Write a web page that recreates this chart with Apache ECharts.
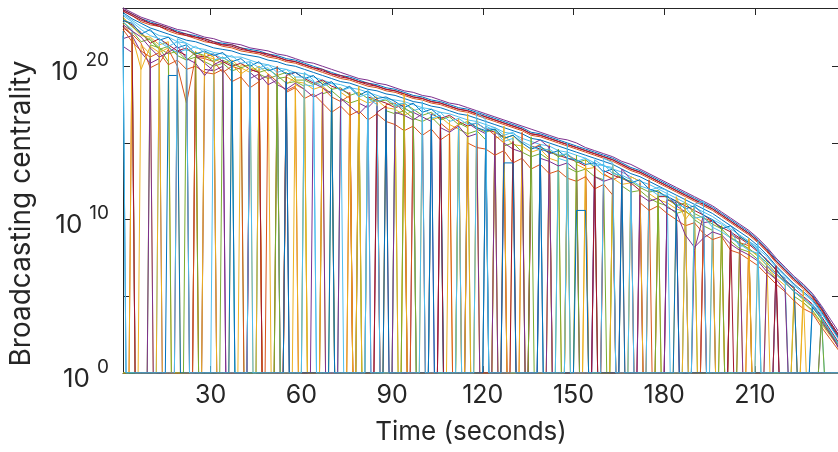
<!DOCTYPE html>
<html>
<head>
<meta charset="utf-8">
<script src="https://cdn.jsdelivr.net/npm/echarts@6/dist/echarts.min.js"></script>
<style>
html,body{margin:0;padding:0;background:#fff;}
#chart{width:838px;height:452px;}
</style>
</head>
<body>
<div id="chart"></div>
<script>
// Time in seconds (sample instants)
const time = [1,4,7,10,13,16,19,22,25,28,31,34,37,40,43,46,49,52,55,58,61,64,67,70,73,76,79,82,85,88,91,94,97,100,103,106,109,112,115,118,121,124,127,130,133,136,139,142,145,148,151,154,157,160,163,166,169,172,175,178,181,184,187,190,193,196,199,202,205,208,211,214,217,220,223,226,229,232,235,238];

// log10 of broadcasting centrality for each node (0 => centrality 1, i.e. the node sits at the floor)
const node1 = [23.7,23.4,23.1,22.9,22.7,22.5,22.3,22.1,22.0,21.8,21.6,21.5,21.4,21.2,21.1,21.0,20.8,20.7,20.5,20.4,20.2,20.0,19.8,19.6,19.4,19.3,19.1,18.9,18.8,18.6,18.5,18.3,18.1,18.0,17.8,17.7,17.5,17.3,17.2,17.0,16.8,16.6,16.4,16.2,16.0,15.7,15.6,15.4,15.2,15.0,14.8,14.6,14.4,14.2,14.0,13.7,13.4,13.2,12.9,12.6,12.3,12.0,11.7,11.4,11.1,10.8,10.4,10.0,9.6,9.2,8.7,8.1,7.4,6.8,6.2,5.7,5.1,4.3,3.3,2.4];
const node2 = [23.6,23.3,22.9,22.7,22.6,22.3,22.1,22.0,21.8,21.6,21.5,21.3,21.2,21.0,20.9,20.8,20.6,20.5,20.3,20.2,20.0,19.8,19.6,19.4,19.2,19.1,18.9,18.7,18.6,18.4,18.3,18.1,17.9,17.8,17.6,17.5,17.3,17.1,17.0,16.8,16.6,16.4,16.2,16.0,15.8,15.5,15.4,15.2,15.0,14.8,14.6,14.4,14.2,14.0,13.8,13.5,13.2,13.0,12.7,12.4,12.1,11.8,11.5,11.2,10.9,10.6,10.2,9.8,9.4,9.0,8.5,7.9,7.2,6.6,6.0,5.5,4.9,4.1,3.1,2.2];
const node3 = [23.2,22.6,22.0,21.9,21.4,21.6,0,0,20.9,20.6,20.5,20.2,20.4,19.9,19.6,20.0,19.5,0,19.3,19.0,18.9,18.5,18.7,18.2,0,0,17.9,17.6,17.8,17.3,17.2,16.8,17.1,0,16.5,16.7,16.2,15.9,0,0,0,15.3,15.5,14.9,14.8,14.4,14.6,14.0,13.8,0,13.6,13.3,13.4,12.9,12.7,12.3,12.4,0,11.7,11.3,11.1,10.7,10.5,10.2,9.8,0,0,8.9,8.4,8.1,7.6,7.0,6.2,5.7,0,4.6,4.0,3.2,2.4,1.6];
const node4 = [23.8,23.5,23.2,23.0,22.8,22.6,22.4,22.3,22.1,21.9,21.8,21.6,21.5,21.4,21.2,21.1,21.0,20.8,20.7,20.5,20.3,20.2,20.0,19.8,19.6,19.4,19.2,19.1,18.9,18.8,18.6,18.4,18.3,18.1,18.0,17.8,17.6,17.5,17.3,17.1,16.9,16.7,16.5,16.3,16.1,15.9,15.7,15.5,15.3,15.2,15.0,14.7,14.5,14.3,14.1,13.8,13.6,13.3,13.0,12.7,12.4,12.1,11.8,11.5,11.2,10.9,10.5,10.1,9.7,9.3,8.8,8.2,7.5,6.9,6.3,5.8,5.2,4.4,3.5,2.6];
const node5 = [22.9,22.3,21.6,21.8,21.2,20.8,21.0,20.4,20.6,20.3,20.0,20.2,19.7,19.9,0,19.5,19.2,19.4,18.9,19.0,18.7,0,18.2,18.4,17.9,17.6,17.8,0,0,17.1,16.9,17.1,16.6,16.4,16.7,16.1,0,15.9,15.6,15.8,15.2,0,14.8,15.0,14.4,14.1,14.3,13.9,0,13.4,13.1,13.3,12.8,12.6,0,12.2,11.8,11.9,11.4,11.1,10.9,10.4,10.6,10.0,9.6,9.3,0,8.6,8.1,7.9,7.4,6.8,6.1,0,5.0,4.6,4.1,3.3,2.5,1.8];
const node6 = [23.4,23.0,22.6,22.3,22.0,21.9,21.6,21.5,21.2,21.1,20.9,20.8,20.6,20.6,20.4,20.2,20.1,19.9,19.8,19.6,19.5,19.3,19.1,18.9,18.8,18.6,18.5,18.3,18.1,17.9,17.8,17.7,17.5,17.3,17.2,17.0,16.9,16.7,16.5,16.4,16.2,16.0,15.7,15.6,15.3,15.1,14.9,14.8,14.5,14.4,14.2,14.0,13.7,13.5,13.3,13.1,12.8,12.5,12.3,12.0,11.7,11.4,11.1,10.8,10.5,10.2,9.8,9.4,9.0,8.6,8.1,7.6,6.9,6.3,5.7,5.2,4.7,3.9,3.0,2.1];
const node7 = [23.7,23.4,23.1,22.8,22.7,22.5,22.2,22.1,21.9,21.8,21.6,21.4,21.4,21.2,21.0,20.9,20.8,20.6,20.4,20.3,20.1,19.9,19.8,19.5,19.4,19.2,19.0,18.9,18.7,18.5,18.4,18.2,18.0,17.9,17.7,17.6,17.4,17.2,17.1,16.9,16.7,16.5,16.3,16.1,15.9,15.6,15.5,15.3,15.1,14.9,14.7,14.5,14.3,14.1,13.9,13.6,13.3,13.1,12.8,12.5,12.2,11.9,11.6,11.3,11.0,10.7,10.3,9.9,9.5,9.1,8.6,8.0,7.3,6.7,6.1,5.6,5.0,4.2,3.2,2.3];
const node8 = [22.0,0,0,0,0,19.4,19.4,0,0,0,0,0,20.3,0,0,0,0,0,19.0,0,0,0,0,18.5,0,0,0,0,0,17.2,0,0,0,0,16.8,0,0,0,0,0,15.8,0,13.7,13.7,0,0,14.5,0,0,0,10.6,10.6,0,0,0,12.8,0,0,0,0,0,11.0,0,0,0,0,0,0,0,0,0,0,0,0,0,0,0,0,0,0];
const node9 = [22.5,22.1,21.5,19.9,20.2,21.1,20.0,17.6,20.6,20.5,20.3,19.6,20.0,19.8,0,0,19.5,19.0,18.4,18.7,0,0,18.6,18.0,17.7,18.1,0,0,0,17.5,17.6,17.0,0,0,0,16.3,15.8,16.2,0,0,16.0,15.5,15.0,0,0,14.6,14.9,0,0,14.2,13.9,0,0,13.0,12.6,12.9,0,0,0,0,11.3,11.0,0,0,10.1,9.9,9.4,0,8.5,8.3,0,0,6.7,6.0,5.5,0,0,0,0,0];
const node10 = [0,0,21.4,20.8,0,0,0,0,21.0,0,0,0,0,20.1,20.0,0,0,0,0,18.8,18.5,0,0,0,18.3,17.9,0,0,17.6,0,0,17.4,0,0,0,0,16.5,0,0,16.6,0,0,0,15.4,0,0,0,14.9,0,0,0,13.9,0,0,0,0,12.3,0,0,0,0,0,10.9,0,0,0,9.6,0,0,0,8.0,0,0,0,0,0,0,0,0,0];
const node11 = [21.8,22.0,20.9,20.2,20.5,0,0,0,20.7,20.2,19.7,20.0,0,0,19.2,19.5,18.8,19.1,0,0,0,18.9,18.6,18.2,0,0,17.6,17.3,17.9,0,0,0,17.0,16.7,16.4,0,0,0,16.3,15.9,15.6,0,0,0,0,14.9,15.2,14.7,0,0,0,0,13.8,0,0,0,0,12.4,0,0,11.6,10.9,10.5,0,9.8,9.9,0,0,0,0,0,0,6.5,5.9,5.3,4.9,4.4,3.6,2.6,1.5];
const node12 = [0,0,0,21.4,21.2,20.3,0,0,0,0,0,20.4,20.1,0,0,0,0,19.2,19.3,0,0,0,0,0,0,0,18.1,0,0,0,17.3,0,0,0,0,0,0,16.3,16.0,0,0,15.9,0,0,0,0,0,0,14.6,0,0,0,0,0,13.1,0,0,0,0,0,0,0,0,10.9,0,0,0,0,8.9,8.5,0,0,0,0,0,0,0,0,0,0];
const node13 = [22.3,0,0,0,0,0,21.8,21.5,0,0,0,0,0,0,20.3,0,0,0,0,0,19.6,19.1,0,0,0,0,0,18.4,0,0,0,0,0,17.7,0,0,0,0,0,17.0,16.5,0,0,0,0,0,0,0,0,15.0,0,0,0,14.0,13.7,0,0,0,0,0,0,0,0,11.0,11.2,0,0,0,0,0,8.6,0,0,0,0,0,0,0,0,0];
const node14 = [23.0,22.7,22.2,21.5,21.8,21.4,21.0,21.2,20.7,20.6,20.8,20.3,20.0,20.2,19.8,19.6,0,0,19.4,19.6,19.2,18.9,19.1,18.7,18.5,18.2,0,18.0,17.8,17.6,17.3,17.5,0,0,16.9,16.6,16.8,16.4,16.1,16.3,15.9,15.7,15.4,0,0,14.8,14.6,14.4,14.2,14.0,13.8,13.5,0,13.2,12.9,12.7,12.4,11.9,0,11.5,11.5,11.2,10.9,10.6,10.3,9.9,9.5,9.2,8.8,8.4,7.9,7.4,6.7,6.1,5.5,5.0,4.5,3.7,2.8,1.9];
const node15 = [23.5,23.1,22.8,22.5,22.3,22.1,21.9,21.7,21.6,21.4,21.2,21.1,21.0,20.8,20.7,20.6,20.4,20.3,20.1,20.0,19.8,19.6,19.4,19.2,19.0,18.9,18.7,18.5,18.4,18.2,18.1,17.9,17.7,17.6,17.4,17.3,17.1,16.9,16.8,16.6,16.4,16.2,16.0,15.8,15.6,15.3,15.2,15.0,14.8,14.6,14.4,14.2,14.0,13.8,13.6,13.3,13.0,12.8,12.5,12.2,11.9,11.6,11.3,11.0,10.7,10.4,10.0,9.6,9.2,8.8,8.3,7.7,7.0,6.4,5.8,5.3,4.8,4.0,3.1,2.2];
const node16 = [0,22.2,0,0,0,0,0,0,20.4,0,0,0,0,0,0,0,0,20.0,0,0,0,0,0,0,0,18.3,0,0,0,0,0,0,17.2,0,0,0,0,0,0,0,0,0,0,0,15.7,0,0,0,0,0,0,0,0,0,0,0,0,0,12.6,0,0,0,0,0,10.2,0,0,0,0,8.7,0,0,0,0,0,0,0,0,0,0];
const node17 = [22.8,22.0,19.8,21.3,20.9,21.2,20.8,0,0,20.9,20.6,0,20.1,19.5,19.9,19.7,0,0,18.8,19.3,0,0,18.9,0,0,17.7,0,17.8,18.0,0,17.4,0,0,16.9,0,0,0,16.6,0,16.4,0,15.8,0,0,15.0,0,0,14.5,0,14.1,0,13.6,0,0,0,0,12.8,12.5,0,11.8,0,11.5,10.0,10.8,0,10.0,0,9.0,8.7,0,0,7.2,0,0,5.6,0,0,0,0,0];
const node18 = [21.3,20.9,0,20.5,0,0,0,0,0,19.8,19.7,0,0,0,0,0,0,0,19.0,0,0,0,0,0,0,0,0,0,17.4,0,0,0,0,0,0,0,0,0,0,0,0,15.6,0,0,0,0,0,14.8,0,0,0,0,0,0,0,13.3,12.6,0,0,0,11.3,11.1,0,8.0,10.3,0,0,9.1,8.7,0,0,7.0,6.4,0,0,0,0,0,0,0];
const node19 = [23.1,22.6,22.1,21.7,21.1,21.3,20.7,20.4,20.9,20.7,20.3,20.6,20.2,19.9,20.1,19.6,19.8,19.4,19.6,19.1,19.1,18.8,19.0,18.5,18.6,18.1,18.3,17.9,17.7,17.8,17.4,17.6,17.2,16.8,17.0,16.5,16.7,16.2,16.4,16.0,15.7,15.9,15.3,15.5,14.9,0,14.7,14.5,14.1,14.3,13.7,13.9,13.4,0,13.1,12.7,12.5,12.1,11.8,11.9,11.4,10.9,11.1,10.4,10.1,9.7,9.4,8.8,8.5,8.1,7.7,7.2,6.5,5.9,5.3,4.8,4.3,3.5,2.6,1.7];
const node20 = [22.9,22.4,0,0,21.6,21.2,20.9,21.1,0,0,20.4,20.6,20.2,0,0,19.8,19.9,19.3,0,0,18.8,18.7,0,0,18.4,0,0,17.9,17.5,0,17.5,17.2,17.0,0,16.6,16.8,0,16.1,0,0,16.1,15.8,15.1,15.3,0,0,14.8,0,14.0,13.8,0,0,13.9,13.5,13.4,0,12.2,0,11.9,12.1,11.9,0,11.0,0,0,10.0,9.7,9.3,8.2,8.6,8.2,0,6.6,6.2,0,0,4.5,3.8,0,0];
const node21 = [23.6,23.3,23.0,22.8,22.6,22.4,22.2,22.0,21.9,21.7,21.5,21.4,21.3,21.1,21.0,20.9,20.7,20.6,20.4,20.3,20.1,19.9,19.7,19.5,19.3,19.2,19.0,18.8,18.7,18.5,18.4,18.2,18.0,17.9,17.7,17.6,17.4,17.2,17.1,16.9,16.7,16.5,16.3,16.1,15.9,15.6,15.5,15.3,15.1,14.9,14.7,14.5,14.3,14.1,13.9,13.6,13.3,13.1,12.8,12.5,12.2,11.9,11.6,11.3,11.0,10.7,10.3,9.9,9.5,9.1,8.6,8.0,7.3,6.7,6.1,5.6,5.0,4.2,3.3,2.4];
const node22 = [23.0,22.8,22.1,22.4,21.7,21.9,21.2,21.4,20.8,21.0,20.7,20.9,20.3,20.5,20.0,20.3,19.7,19.9,19.5,19.6,19.2,19.4,18.8,19.0,18.4,18.7,18.1,18.4,17.9,18.0,17.7,17.3,17.6,17.0,17.2,16.7,0,0,16.4,16.0,15.8,15.9,15.3,15.5,15.0,14.6,14.8,14.3,14.5,14.0,13.9,13.6,13.7,13.1,13.3,12.8,12.4,12.6,12.0,11.8,11.5,11.2,10.7,10.9,10.3,10.0,9.4,9.6,8.9,8.5,8.0,7.3,6.8,6.0,5.6,0,4.3,3.6,2.7,1.8];
const node23 = [22.4,21.6,21.0,20.6,20.9,20.1,20.4,19.8,20.0,19.6,19.5,19.8,19.0,19.3,18.6,19.0,0,0,18.3,18.6,17.9,18.2,17.6,17.0,17.4,16.8,17.1,16.5,16.9,16.4,16.2,15.8,16.1,15.5,15.9,15.2,15.6,0,15.0,14.7,14.6,14.2,14.5,13.7,14.0,13.3,13.6,13.0,13.2,12.7,12.5,12.8,12.0,12.3,11.6,0,0,11.1,10.6,10.9,10.4,10.0,9.6,9.8,9.1,8.7,8.9,8.0,7.8,7.4,7.0,6.4,5.8,5.3,4.7,4.2,3.9,3.0,2.2,1.4];
const node24 = [0,21.9,0,0,21.3,0,0,0,0,20.9,20.6,0,0,0,0,19.9,0,0,0,0,19.5,0,0,0,0,0,18.7,0,0,0,0,18.2,0,0,0,0,0,0,16.9,0,0,0,16.1,0,0,0,0,0,0,14.8,0,0,0,0,13.6,0,0,0,0,0,0,0,11.4,0,0,0,0,0,0,8.8,0,0,0,0,0,5.4,0,0,0,0];
const node25 = [22.7,22.3,21.9,21.2,20.6,20.9,21.3,20.5,20.2,19.4,20.1,20.4,0,0,19.6,19.1,19.4,18.8,18.5,18.9,18.5,18.0,18.3,0,17.9,17.4,16.9,17.5,0,0,17.0,16.8,16.5,16.9,0,16.0,15.7,16.1,15.4,15.6,0,0,15.0,14.6,14.4,0,14.0,13.8,13.5,13.7,13.2,0,12.8,12.5,12.7,0,0,11.6,11.2,11.4,10.8,10.5,9.0,8.2,8.8,9.2,9.0,8.4,8.0,7.7,7.3,6.6,6.1,5.4,0,0,0,3.4,2.5,1.6];
const node26 = [0,0,0,0,0,0,0,21.1,20.8,0,0,0,0,0,0,0,0,19.0,0,0,0,0,0,18.6,0,0,0,0,0,0,0,17.3,16.9,0,0,0,0,0,0,0,0,0,0,0,0,15.4,0,0,0,0,14.2,0,0,0,0,0,0,0,0,11.6,0,0,0,0,0,0,9.6,0,0,0,0,0,0,0,0,0,0,3.6,0,0];
const node27 = [23.3,22.9,22.4,22.0,21.8,21.3,21.6,21.0,21.3,20.9,20.8,20.5,20.7,20.2,20.3,19.9,20.1,19.6,19.8,19.3,19.3,19.0,18.7,18.9,18.4,18.6,18.0,18.2,17.7,17.9,17.5,17.6,17.1,17.3,16.8,17.0,16.4,16.6,16.2,16.3,15.9,16.0,15.5,15.7,15.1,14.8,14.5,14.6,14.2,14.3,13.8,14.0,13.5,13.6,13.0,12.9,12.6,12.2,12.0,11.6,11.6,11.0,10.8,10.1,10.2,9.5,9.2,8.8,8.4,8.0,7.8,7.0,6.4,5.9,5.3,4.9,4.4,3.6,2.7,1.8];
const node28 = [22.6,22.0,0,0,0,0,21.0,20.7,0,0,0,0,0,0,19.8,19.6,0,0,0,0,0,0,0,0,0,0,0,0,17.0,17.4,0,0,0,0,0,16.2,0,0,0,0,0,0,0,15.1,0,0,0,0,0,0,0,0,13.5,0,0,0,0,0,0,0,0,0,0,0,0,0,0,9.3,0,0,0,0,7.0,0,0,0,0,0,0,0];

const nodes = [node1,node2,node3,node4,node5,node6,node7,node8,node9,node10,node11,node12,node13,node14,node15,node16,node17,node18,node19,node20,node21,node22,node23,node24,node25,node26,node27,node28];

// Axis ticks
const xTicks = [30,60,90,120,150,180,210];
const yTicks = [0,5,10,15,20];
const yLabels = [0,10,20];

const colors = ['#0072BD','#D95319','#EDB120','#7E2F8E','#77AC30','#4DBEEE','#A2142F'];
const FONT = 'Inter, "Liberation Sans", Arial, sans-serif';
const TXT = '#262626';

// A floor run (value 0 => centrality 1) starts one second after the last
// sample above the floor and ends one second before the next one.
function toPoints(arr) {
  const pts = [];
  const n = arr.length;
  for (let i = 0; i < n; i++) {
    if (arr[i] > 0) { pts.push([time[i], arr[i]]); continue; }
    const left = (i > 0 && arr[i - 1] > 0) ? time[i - 1] + 1 : time[i];
    const right = (i < n - 1 && arr[i + 1] > 0) ? time[i + 1] - 1 : time[i];
    pts.push([left, 0]);
    if (right !== left) pts.push([right, 0]);
  }
  return pts;
}

const chart = echarts.init(document.getElementById('chart'), null, {renderer:'canvas'});

const series = nodes.map((arr, k) => ({
  type: 'line',
  name: 'node ' + (k + 1),
  data: toPoints(arr),
  showSymbol: false,
  symbol: 'none',
  silent: true,
  clip: true,
  z: (k === 7 || k === 12) ? 3 : 2,
  color: colors[k % colors.length],
  lineStyle: {width: 1, color: colors[k % colors.length]},
  emphasis: {disabled: true},
  xAxisIndex: 0,
  yAxisIndex: 0
}));

chart.setOption({
  animation: false,
  backgroundColor: '#fff',
  grid: {left: 123, right: 0, top: 8, bottom: 79, containLabel: false},
  xAxis: [{
    type: 'value', position: 'bottom', min: 1, max: 237.5,
    name: 'Time (seconds)', nameLocation: 'middle', nameGap: 46,
    nameTextStyle: {fontFamily: FONT, fontSize: 26, color: TXT, padding: [0, 19, 0, 0]},
    axisLine: {show: true, onZero: false, lineStyle: {color: TXT, width: 1}},
    axisTick: {show: true, inside: true, length: 7, customValues: xTicks, lineStyle: {color: TXT, width: 1}},
    axisLabel: {show: true, customValues: xTicks, margin: 10, fontFamily: FONT, fontSize: 25, color: TXT},
    splitLine: {show: false}
  }, {
    type: 'value', position: 'top', min: 1, max: 237.5,
    axisLine: {show: true, onZero: false, lineStyle: {color: TXT, width: 1}},
    axisTick: {show: true, inside: true, length: 7, customValues: xTicks, lineStyle: {color: TXT, width: 1}},
    axisLabel: {show: false},
    splitLine: {show: false}
  }],
  yAxis: [{
    type: 'value', position: 'left', min: 0, max: 23.8,
    name: 'Broadcasting centrality', nameLocation: 'middle', nameGap: 87,
    nameTextStyle: {fontFamily: FONT, fontSize: 28, color: TXT, padding: [0, 46, 0, 0]},
    axisLine: {show: true, onZero: false, lineStyle: {color: TXT, width: 1}},
    axisTick: {show: true, inside: true, length: 7, customValues: yTicks, lineStyle: {color: TXT, width: 1}},
    axisLabel: {
      show: true, customValues: yLabels, margin: 14,
      formatter: v => '{b|10}{s|' + v + '}',
      rich: {
        b: {fontFamily: FONT, fontSize: 26, lineHeight: 26, color: TXT, padding: [12, 0, 0, 0]},
        s: {fontFamily: FONT, fontSize: 19, lineHeight: 19, color: TXT, padding: [0, 0, 12, 7]}
      }
    },
    splitLine: {show: false}
  }, {
    type: 'value', position: 'right', min: 0, max: 23.8,
    axisLine: {show: false},
    axisTick: {show: true, inside: true, length: 6, customValues: yTicks, lineStyle: {color: TXT, width: 1}},
    axisLabel: {show: false},
    splitLine: {show: false}
  }],
  series: series
});
</script>
</body>
</html>
